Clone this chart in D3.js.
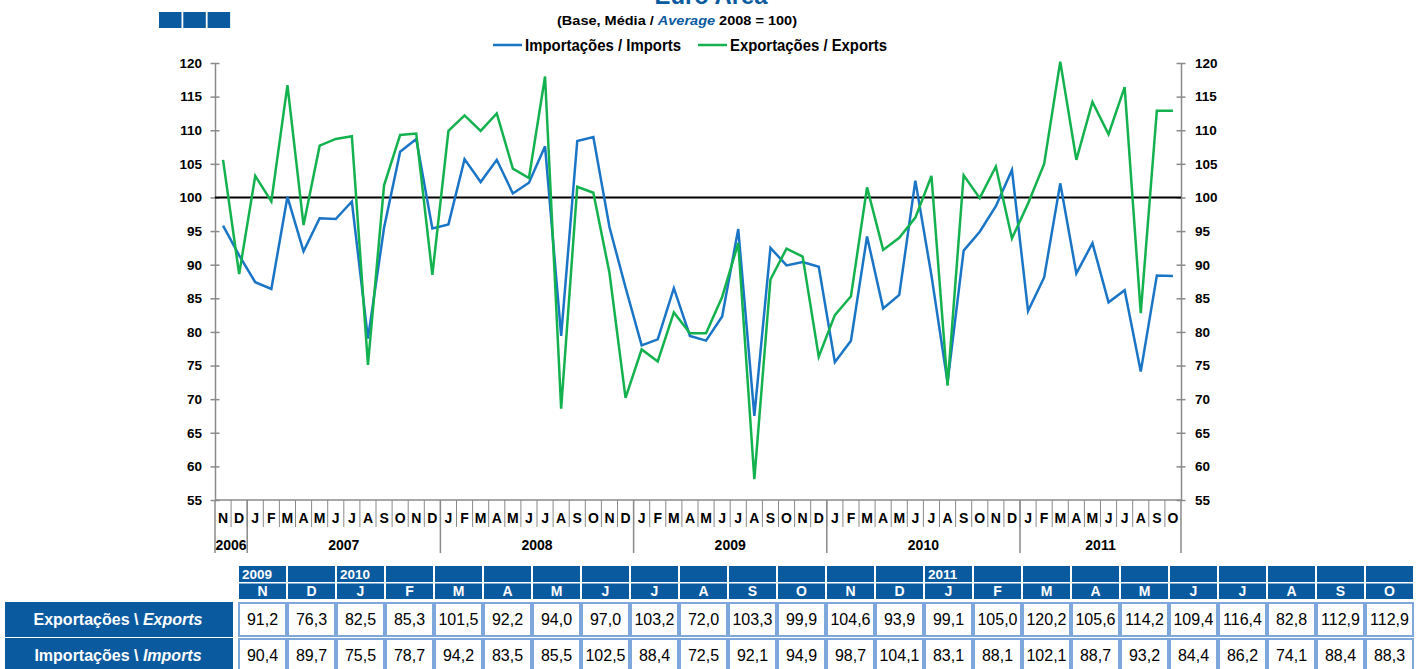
<!DOCTYPE html>
<html>
<head>
<meta charset="utf-8">
<script src="https://cdn.jsdelivr.net/npm/d3@7"></script>
<style>
  html, body { margin: 0; padding: 0; background: #fff; }
  svg { display: block; font-family: "Liberation Sans", Arial, sans-serif; }
</style>
</head>
<body>
<div id="chart"></div>
<script>
// Months Nov 2006 – Oct 2011
const monthLabels = ['N', 'D',
  'J', 'F', 'M', 'A', 'M', 'J', 'J', 'A', 'S', 'O', 'N', 'D',
  'J', 'F', 'M', 'A', 'M', 'J', 'J', 'A', 'S', 'O', 'N', 'D',
  'J', 'F', 'M', 'A', 'M', 'J', 'J', 'A', 'S', 'O', 'N', 'D',
  'J', 'F', 'M', 'A', 'M', 'J', 'J', 'A', 'S', 'O', 'N', 'D',
  'J', 'F', 'M', 'A', 'M', 'J', 'J', 'A', 'S', 'O'];
const years = [
  { label: '2006', start: 0, end: 2 },
  { label: '2007', start: 2, end: 14 },
  { label: '2008', start: 14, end: 26 },
  { label: '2009', start: 26, end: 38 },
  { label: '2010', start: 38, end: 50 },
  { label: '2011', start: 50, end: 60 }
];

const exportsIdx = [105.6, 88.6, 103.2, 99.4, 116.7, 95.9, 107.7, 108.7, 109.1, 75.1, 101.8, 109.3,
  109.5, 88.5, 109.9, 112.2, 109.9, 112.5, 104.3, 102.9, 118.0, 68.6, 101.6, 100.7,
  88.8, 70.2, 77.4, 75.6, 82.9, 79.8, 79.8, 85.2, 93.2, 58.1, 87.8, 92.4,
  91.2, 76.3, 82.5, 85.3, 101.5, 92.2, 94.0, 97.0, 103.2, 72.0, 103.3, 99.9,
  104.6, 93.9, 99.1, 105.0, 120.2, 105.6, 114.2, 109.4, 116.4, 82.8, 112.9, 112.9];
const importsIdx = [95.8, 91.4, 87.4, 86.4, 100.1, 92.0, 96.9, 96.8, 99.4, 79.0, 95.5, 106.8,
  108.7, 95.4, 96.0, 105.7, 102.3, 105.6, 100.6, 102.2, 107.6, 79.4, 108.4, 109.0,
  95.6, 86.6, 78.0, 78.9, 86.5, 79.4, 78.7, 82.3, 95.3, 67.5, 92.5, 89.9,
  90.4, 89.7, 75.5, 78.7, 94.2, 83.5, 85.5, 102.5, 88.4, 72.5, 92.1, 94.9,
  98.7, 104.1, 83.1, 88.1, 102.1, 88.7, 93.2, 84.4, 86.2, 74.1, 88.4, 88.3];

const yTicks = d3.range(55, 121, 5);
const tableYears = { 0: '2009', 2: '2010', 14: '2011' };
const tableStart = 36; // last 24 months in the table

const W = 1416, H = 669;
const blue = '#0a5aa0', impColor = '#1a75c6', expColor = '#14b24e';

const svg = d3.select('#chart').append('svg').attr('width', W).attr('height', H);

// header squares
svg.append('g').selectAll('rect').data([0, 1, 2]).join('rect')
  .attr('x', d => 159 + d * 24.3).attr('y', 12).attr('width', 22.5).attr('height', 16)
  .attr('fill', blue);

// title (cut off at top, as in the source)
svg.append('text').attr('x', 711).attr('y', 4).attr('text-anchor', 'middle')
  .attr('font-size', 24).attr('font-weight', 'bold').attr('fill', blue)
  .attr('textLength', 113).attr('lengthAdjust', 'spacingAndGlyphs')
  .text('Euro Area');

const sub = svg.append('text').attr('x', 677).attr('y', 25).attr('text-anchor', 'middle')
  .attr('font-size', 13.5).attr('font-weight', 'bold')
  .attr('textLength', 240).attr('lengthAdjust', 'spacingAndGlyphs');
sub.append('tspan').text('(Base, Média / ');
sub.append('tspan').attr('fill', blue).attr('font-style', 'italic').text('Average');
sub.append('tspan').text(' 2008 = 100)');

// legend
const legend = [
  { label: 'Importações / Imports', color: impColor, x: 493, w: 156 },
  { label: 'Exportações / Exports', color: expColor, x: 698, w: 157 }
];
const lg = svg.append('g').selectAll('g').data(legend).join('g');
lg.append('line').attr('x1', d => d.x).attr('x2', d => d.x + 29).attr('y1', 45).attr('y2', 45)
  .attr('stroke', d => d.color).attr('stroke-width', 2.5);
lg.append('text').attr('x', d => d.x + 32).attr('y', 51)
  .attr('font-size', 16).attr('font-weight', 'bold')
  .attr('textLength', d => d.w).attr('lengthAdjust', 'spacingAndGlyphs')
  .text(d => d.label);

// scales
const x = d3.scaleBand().domain(d3.range(monthLabels.length)).range([215, 1181]).padding(0);
const y = d3.scaleLinear().domain([55, 120]).range([500, 63]);
const cx = i => x(i) + x.bandwidth() / 2;

// axes
const axisL = svg.append('g').attr('transform', 'translate(215,0)')
  .call(d3.axisLeft(y).tickValues(yTicks).tickSize(0).tickPadding(13));
const axisR = svg.append('g').attr('transform', 'translate(1181,0)')
  .call(d3.axisRight(y).tickValues(yTicks).tickSize(0).tickPadding(14));
[axisL, axisR].forEach(a => {
  a.select('.domain').attr('stroke', '#8a8a8a').attr('stroke-width', 1.5);
  a.selectAll('.tick line').attr('x1', -4.5).attr('x2', 4.5).attr('stroke', '#8a8a8a').attr('stroke-width', 1.5);
  a.selectAll('.tick text').attr('font-size', 13.5).attr('font-weight', 'bold').attr('fill', '#000')
    .attr('font-family', '"Liberation Sans", Arial, sans-serif');
});

// bottom axis: month cells and years
const bx = svg.append('g');
bx.append('line').attr('x1', 215).attr('x2', 1181).attr('y1', 500).attr('y2', 500)
  .attr('stroke', '#8a8a8a').attr('stroke-width', 1.5);
bx.selectAll('line.m').data(d3.range(1, monthLabels.length)).join('line').attr('class', 'm')
  .attr('x1', d => x(d)).attr('x2', d => x(d)).attr('y1', 500).attr('y2', 527)
  .attr('stroke', '#8a8a8a').attr('stroke-width', 1);
bx.selectAll('line.y').data(years.map(d => d.start).concat([monthLabels.length])).join('line').attr('class', 'y')
  .attr('x1', d => d === monthLabels.length ? 1181 : x(d)).attr('x2', d => d === monthLabels.length ? 1181 : x(d))
  .attr('y1', 500).attr('y2', 553)
  .attr('stroke', '#8a8a8a').attr('stroke-width', 1.5);
bx.selectAll('text.m').data(monthLabels).join('text').attr('class', 'm')
  .attr('x', (d, i) => cx(i)).attr('y', 523).attr('text-anchor', 'middle')
  .attr('font-size', 14).attr('font-weight', 'bold').text(d => d);
bx.selectAll('text.y').data(years).join('text').attr('class', 'y')
  .attr('x', d => (x(d.start) + (d.end >= monthLabels.length ? 1181 : x(d.end))) / 2)
  .attr('y', 550).attr('text-anchor', 'middle')
  .attr('font-size', 14).attr('font-weight', 'bold').text(d => d.label);

// 100 reference line
svg.append('line').attr('x1', 215).attr('x2', 1181).attr('y1', y(100)).attr('y2', y(100))
  .attr('stroke', '#000').attr('stroke-width', 2);

// series
const line = d3.line().x((d, i) => cx(i)).y(d => y(d));
svg.append('path').datum(importsIdx).attr('d', line).attr('fill', 'none')
  .attr('stroke', impColor).attr('stroke-width', 2.5).attr('stroke-linejoin', 'miter');
svg.append('path').datum(exportsIdx).attr('d', line).attr('fill', 'none')
  .attr('stroke', expColor).attr('stroke-width', 2.5).attr('stroke-linejoin', 'miter');

// table
const fmt = v => v.toFixed(1).replace('.', ',');
const tx = d3.scaleBand().domain(d3.range(monthLabels.length - tableStart)).range([238, 1414]).padding(0);
const cols = d3.range(monthLabels.length - tableStart);
const tbl = svg.append('g');

tbl.selectAll('rect.yr').data(cols).join('rect').attr('class', 'yr')
  .attr('x', d => tx(d) + 1).attr('y', 566).attr('width', tx.bandwidth() - 2).attr('height', 16)
  .attr('fill', blue);
tbl.selectAll('text.yr').data(cols.filter(d => tableYears[d])).join('text').attr('class', 'yr')
  .attr('x', d => tx(d) + 4).attr('y', 579).attr('font-size', 13.5).attr('font-weight', 'bold')
  .attr('fill', '#fff').text(d => tableYears[d]);

tbl.selectAll('rect.mo').data(cols).join('rect').attr('class', 'mo')
  .attr('x', d => tx(d) + 1).attr('y', 583.5).attr('width', tx.bandwidth() - 2).attr('height', 15.5)
  .attr('fill', blue);
tbl.selectAll('text.mo').data(cols).join('text').attr('class', 'mo')
  .attr('x', d => tx(d) + tx.bandwidth() / 2).attr('y', 596).attr('text-anchor', 'middle')
  .attr('font-size', 14).attr('font-weight', 'bold').attr('fill', '#fff')
  .text(d => monthLabels[tableStart + d]);

const rows = [
  { label: 'Exportações \\ ', it: 'Exports', values: exportsIdx.slice(tableStart), y: 602, h: 35 },
  { label: 'Importações \\ ', it: 'Imports', values: importsIdx.slice(tableStart), y: 638, h: 35 }
];
const rg = tbl.selectAll('g.row').data(rows).join('g').attr('class', 'row');
rg.append('rect').attr('x', 5).attr('y', d => d.y).attr('width', 228).attr('height', d => d.h)
  .attr('fill', blue);
const lt = rg.append('text').attr('x', 118).attr('y', d => d.y + 23).attr('text-anchor', 'middle')
  .attr('font-size', 16).attr('font-weight', 'bold').attr('fill', '#fff');
lt.append('tspan').text(d => d.label);
lt.append('tspan').attr('font-style', 'italic').text(d => d.it);

rg.each(function(r) {
  const g = d3.select(this);
  g.selectAll('rect.c').data(r.values).join('rect').attr('class', 'c')
    .attr('x', (d, i) => tx(i) + 1).attr('y', r.y + 1).attr('width', tx.bandwidth() - 2).attr('height', r.h - 2)
    .attr('fill', '#fff').attr('stroke', '#7ea7dc').attr('stroke-width', 2);
  g.selectAll('text.c').data(r.values).join('text').attr('class', 'c')
    .attr('x', (d, i) => tx(i) + tx.bandwidth() / 2).attr('y', r.y + 23).attr('text-anchor', 'middle')
    .attr('font-size', 16).attr('fill', '#000').text(d => fmt(d));
});
</script>
</body>
</html>
